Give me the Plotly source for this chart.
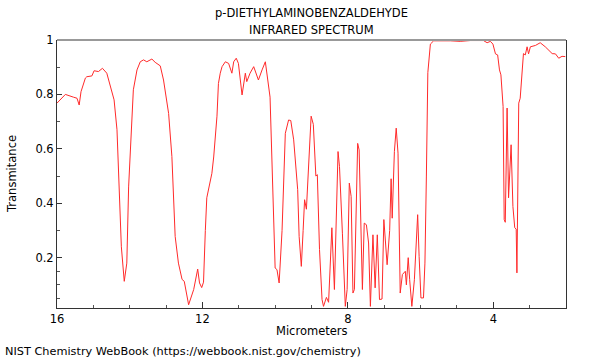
import plotly.graph_objects as go

# Wavelength (micrometers) and transmittance
micrometers = [
    16.00, 15.77, 15.55, 15.45, 15.39, 15.34, 15.22, 15.18, 15.04, 14.98,
    14.86, 14.75, 14.63, 14.54, 14.43, 14.35, 14.28, 14.23, 14.15, 14.08,
    14.03, 13.97, 13.90, 13.80, 13.71, 13.62, 13.53, 13.39, 13.30, 13.16,
    13.07, 12.93, 12.84, 12.75, 12.66, 12.56, 12.50, 12.38, 12.24, 12.13,
    12.08, 12.02, 11.97, 11.92, 11.88, 11.74, 11.69, 11.60, 11.56, 11.51,
    11.46, 11.37, 11.28, 11.19, 11.14, 11.07, 11.01, 10.91, 10.82, 10.78,
    10.69, 10.59, 10.46, 10.36, 10.27, 10.14, 10.06, 10.00, 9.95, 9.89,
    9.81, 9.72, 9.63, 9.57, 9.49, 9.38, 9.34, 9.28, 9.23, 9.19,
    9.14, 9.08, 9.01, 8.95, 8.88, 8.84, 8.78, 8.71, 8.67, 8.59,
    8.53, 8.44, 8.37, 8.27, 8.23, 8.15, 8.07, 8.02, 7.96, 7.91,
    7.86, 7.82, 7.73, 7.69, 7.60, 7.55, 7.49, 7.43, 7.38, 7.31,
    7.25, 7.19, 7.13, 7.06, 7.01, 6.92, 6.85, 6.81, 6.78, 6.72,
    6.67, 6.62, 6.56, 6.50, 6.42, 6.39, 6.34, 6.30, 6.24, 6.17,
    6.08, 6.04, 5.99, 5.92, 5.88, 5.84, 5.80, 5.73, 5.64, 5.18,
    4.91, 4.63, 4.27, 4.17, 4.08, 4.01, 3.94, 3.88, 3.83, 3.79,
    3.73, 3.70, 3.67, 3.62, 3.58, 3.51, 3.46, 3.41, 3.37, 3.35,
    3.30, 3.26, 3.21, 3.17, 3.12, 3.07, 3.03, 2.98, 2.84, 2.71,
    2.57, 2.38, 2.29, 2.20, 2.11, 2.02,
]
transmittance = [
    0.768, 0.800, 0.790, 0.786, 0.761, 0.810, 0.860, 0.865, 0.868, 0.887,
    0.884, 0.896, 0.878, 0.835, 0.780, 0.670, 0.425, 0.240, 0.113, 0.180,
    0.460, 0.633, 0.817, 0.890, 0.920, 0.927, 0.920, 0.930, 0.918, 0.905,
    0.853, 0.730, 0.572, 0.278, 0.180, 0.120, 0.113, 0.027, 0.083, 0.158,
    0.107, 0.090, 0.110, 0.300, 0.420, 0.510, 0.570, 0.720, 0.840, 0.878,
    0.902, 0.920, 0.914, 0.878, 0.920, 0.933, 0.914, 0.798, 0.878, 0.847,
    0.878, 0.902, 0.853, 0.890, 0.920, 0.790, 0.425, 0.162, 0.156, 0.107,
    0.300, 0.657, 0.706, 0.704, 0.633, 0.450, 0.278, 0.168, 0.300, 0.413,
    0.378, 0.540, 0.720, 0.690, 0.500, 0.505, 0.230, 0.046, 0.021, 0.054,
    0.036, 0.310, 0.083, 0.590, 0.535, 0.290, 0.021, 0.083, 0.474, 0.425,
    0.070, 0.083, 0.620, 0.596, 0.083, 0.327, 0.321, 0.254, 0.021, 0.284,
    0.089, 0.284, 0.046, 0.048, 0.340, 0.174, 0.300, 0.490, 0.345, 0.590,
    0.676, 0.584, 0.070, 0.138, 0.150, 0.100, 0.200, 0.119, 0.021, 0.119,
    0.358, 0.205, 0.052, 0.052, 0.180, 0.500, 0.880, 0.985, 0.997, 0.997,
    0.995, 0.998, 0.998, 0.990, 0.995, 0.985, 0.949, 0.945, 0.890, 0.872,
    0.755, 0.340, 0.330, 0.750, 0.420, 0.615, 0.388, 0.310, 0.305, 0.144,
    0.768, 0.786, 0.890, 0.950, 0.945, 0.975, 0.949, 0.975, 0.980, 0.990,
    0.975, 0.950, 0.949, 0.933, 0.940, 0.939,
]

title_lines = ["p-DIETHYLAMINOBENZALDEHYDE", "INFRARED SPECTRUM"]
x_major_ticks = [16, 12, 8, 4]
x_minor_ticks = [15, 14, 13, 11, 10, 9, 7, 6, 5, 3]
y_major_ticks = [0.2, 0.4, 0.6, 0.8, 1.0]
y_major_labels = ["0.2", "0.4", "0.6", "0.8", "1"]
y_minor_ticks = [0.05, 0.1, 0.15, 0.3, 0.5, 0.7, 0.9]

FONT = "DejaVu Sans"
FS = 11.5
PLOT_H = 268.3  # plot-area height in px, used to place texts in paper units

fig = go.Figure()
fig.add_trace(go.Scatter(
    x=micrometers, y=transmittance, mode="lines",
    line=dict(color="#ff2a2a", width=1), hoverinfo="skip", showlegend=False,
))

annotations = [
    dict(text=title_lines[0], xref="paper", yref="paper", x=0.5, y=1 + 27 / PLOT_H,
         xanchor="center", yanchor="middle", showarrow=False, font=dict(family=FONT, size=FS)),
    dict(text=title_lines[1], xref="paper", yref="paper", x=0.5, y=1 + 10 / PLOT_H,
         xanchor="center", yanchor="middle", showarrow=False, font=dict(family=FONT, size=FS)),
    dict(text="Micrometers", xref="paper", yref="paper", x=0.5, y=-23 / PLOT_H,
         xanchor="center", yanchor="middle", showarrow=False, font=dict(family=FONT, size=FS)),
    dict(text="Transmitance", xref="paper", yref="paper", x=-45 / 509, y=0.5,
         xanchor="center", yanchor="middle", textangle=-90, showarrow=False,
         font=dict(family=FONT, size=FS)),
    dict(text="NIST Chemistry WebBook (https://webbook.nist.gov/chemistry)",
         xref="paper", yref="paper", x=-54 / 509, y=-44 / PLOT_H,
         xanchor="left", yanchor="middle", showarrow=False, font=dict(family=FONT, size=11.3)),
]

fig.update_layout(
    width=600, height=360,
    margin=dict(l=57, r=34, t=40, b=52),
    paper_bgcolor="white", plot_bgcolor="white",
    font=dict(family=FONT, size=FS, color="black"),
    xaxis=dict(
        range=[16, 2], showgrid=False, zeroline=False,
        showline=True, linecolor="#333333", linewidth=1, mirror=False,
        tickmode="array", tickvals=x_major_ticks, ticktext=[str(v) for v in x_major_ticks],
        ticks="inside", ticklen=6, tickcolor="#333333",
        minor=dict(tickmode="array", tickvals=x_minor_ticks, ticks="inside",
                   ticklen=3, tickcolor="#555555"),
        tickfont=dict(family=FONT, size=FS),
    ),
    yaxis=dict(
        range=[0.015, 1], showgrid=False, zeroline=False,
        showline=True, linecolor="#333333", linewidth=1, mirror=True,
        tickmode="array", tickvals=y_major_ticks, ticktext=y_major_labels,
        ticks="inside", ticklen=5, tickcolor="#333333",
        minor=dict(tickmode="array", tickvals=y_minor_ticks, ticks="inside",
                   ticklen=3, tickcolor="#555555"),
        tickfont=dict(family=FONT, size=FS),
    ),
    shapes=[dict(type="line", xref="paper", yref="paper", x0=0, x1=1, y0=1, y1=1,
                 line=dict(color="#999999", width=2))],
    annotations=annotations,
)

fig.write_html("out.html", config={"displayModeBar": False},
               post_script="document.body.style.margin='0';")
